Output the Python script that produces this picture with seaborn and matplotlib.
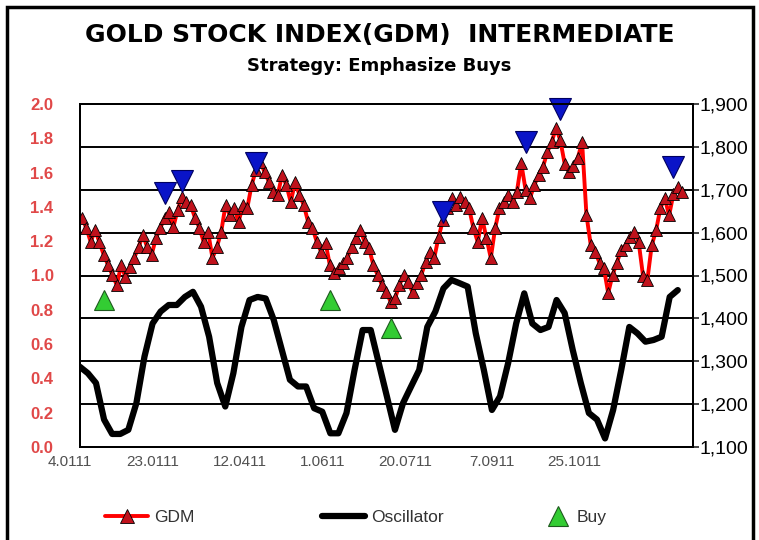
import numpy as np
import pandas as pd
import matplotlib
matplotlib.use("Agg")
import matplotlib.pyplot as plt
import seaborn as sns
from matplotlib.lines import Line2D
from matplotlib.ticker import MultipleLocator, FuncFormatter
from matplotlib.transforms import ScaledTranslation
from matplotlib.patches import Rectangle

# GDM closes (right axis), one value per trading day
gdm = [1634, 1611, 1578, 1606, 1578, 1548, 1524, 1501, 1478, 1524, 1496, 1520, 1541, 1566, 1594,
       1566, 1548, 1587, 1611, 1634, 1648, 1613, 1653, 1683, 1671, 1664, 1634, 1611, 1578, 1601,
       1541, 1566, 1601, 1664, 1641, 1657, 1625, 1664, 1657, 1711, 1746, 1765, 1741, 1718, 1695,
       1688, 1734, 1711, 1671, 1718, 1688, 1664, 1625, 1611, 1578, 1555, 1576, 1524, 1506, 1517,
       1529, 1541, 1566, 1587, 1606, 1578, 1564, 1524, 1501, 1478, 1461, 1438, 1447, 1478, 1501,
       1485, 1461, 1482, 1501, 1531, 1555, 1541, 1590, 1629, 1657, 1681, 1664, 1683, 1671, 1657,
       1611, 1578, 1634, 1587, 1541, 1610, 1657, 1671, 1688, 1671, 1695, 1762, 1700, 1680, 1711,
       1734, 1753, 1788, 1811, 1844, 1815, 1760, 1741, 1755, 1774, 1811, 1641, 1570, 1555, 1530,
       1517, 1459, 1501, 1530, 1560, 1571, 1590, 1601, 1578, 1500, 1489, 1570, 1605, 1657, 1681,
       1640, 1690, 1706, 1695]

# oscillator (left axis)
osc = [0.468, 0.43, 0.373, 0.16, 0.076, 0.076, 0.10, 0.256, 0.527, 0.72, 0.79, 0.828, 0.828,
       0.875, 0.905, 0.818, 0.643, 0.373, 0.236, 0.43, 0.70, 0.857, 0.875, 0.866, 0.741, 0.566,
       0.392, 0.353, 0.353, 0.226, 0.206, 0.08, 0.08, 0.198, 0.449, 0.682, 0.682, 0.488, 0.295,
       0.10, 0.256, 0.353, 0.449, 0.70, 0.79, 0.925, 0.974, 0.955, 0.935, 0.663, 0.449, 0.216,
       0.295, 0.488, 0.72, 0.896, 0.72, 0.682, 0.70, 0.857, 0.781, 0.566, 0.373, 0.198, 0.16,
       0.05, 0.216, 0.449, 0.70, 0.663, 0.614, 0.624, 0.643, 0.875, 0.915]

buy_day = [5, 57, 71]
buy_val = [1443, 1443, 1378]
sell_day = [19, 23, 40, 83, 102, 110, 136]
sell_val = [1692, 1720, 1762, 1648, 1811, 1888, 1753]

tick_day = [0, 19, 39, 58, 77, 97, 116]
tick_labels = ['4.0111', '23.0111', '12.0411', '1.0611', '20.0711', '7.0911', '25.1011']

df_gdm = pd.DataFrame({'day': np.arange(len(gdm)), 'GDM': gdm})
df_osc = pd.DataFrame({'day': np.linspace(-0.5, 137, len(osc)), 'Oscillator': osc})

sns.set_style("white")
plt.rcParams['font.family'] = ['Liberation Sans', 'DejaVu Sans']

fig = plt.figure(figsize=(7.59, 5.40), dpi=100)
ax = fig.add_axes([80 / 759, 1 - 447 / 540, 613 / 759, 343 / 540])
ax2 = ax.twinx()

# oscillator on the left scale
sns.lineplot(data=df_osc, x='day', y='Oscillator', ax=ax, color='black', linewidth=4.5, legend=False)
ax.set_ylim(0, 2.0)
ax.yaxis.set_major_locator(MultipleLocator(0.2))
ax.yaxis.set_minor_locator(MultipleLocator(0.25))
ax.yaxis.remove_overlapping_locs = False
ax.yaxis.set_major_formatter(FuncFormatter(lambda v, p: '%.1f' % v))
ax.grid(which='minor', axis='y', color='black', linewidth=1.4)
ax.grid(which='major', axis='both', visible=False)
ax.tick_params(axis='y', which='both', length=0, pad=19, labelsize=12, labelcolor='#E04848')
for lab in ax.get_yticklabels():
    lab.set_fontweight('bold')

# GDM on the right scale
sns.lineplot(data=df_gdm, x='day', y='GDM', ax=ax2, color='#FF0000', linewidth=2.8,
             marker='^', markersize=8.5, markerfacecolor='#C0121C', markeredgecolor='black',
             markeredgewidth=0.6, legend=False)
ax2.plot(sell_day, sell_val, linestyle='none', marker='v', markersize=16, clip_on=False,
         markerfacecolor='#0A14C8', markeredgecolor='#000060', markeredgewidth=0.8)
ax2.plot(buy_day, buy_val, linestyle='none', marker='^', markersize=15,
         markerfacecolor='#33CC33', markeredgecolor='#1E5A1E', markeredgewidth=0.8)
ax2.set_ylim(1100, 1900)
ax2.yaxis.set_major_locator(MultipleLocator(100))
ax2.yaxis.set_major_formatter(FuncFormatter(lambda v, p: '{:,.0f}'.format(v)))
ax2.tick_params(axis='y', length=4, width=1.2, pad=1, labelsize=14, labelcolor='black')
ax2.set_ylabel('')

ax.set_xlim(-0.46, 140.5)
ax.set_xticks(tick_day)
ax.set_xticklabels(tick_labels)
ax.tick_params(axis='x', length=0, pad=6, labelsize=11, labelcolor='#505050')
shift = ScaledTranslation(-0.12, 0, fig.dpi_scale_trans)
for lab in ax.get_xticklabels():
    lab.set_transform(lab.get_transform() + shift)
ax.set_xlabel('')
ax.set_ylabel('')

for a in (ax, ax2):
    for s in a.spines.values():
        s.set_color('black')
        s.set_linewidth(1.4)

fig.text(0.5, 1 - 35 / 540, 'GOLD STOCK INDEX(GDM)  INTERMEDIATE', ha='center', va='center',
         fontsize=18, fontweight='bold', family='DejaVu Sans', color='black')
fig.text(0.5, 1 - 66 / 540, 'Strategy: Emphasize Buys', ha='center', va='center',
         fontsize=13, fontweight='bold', family='DejaVu Sans', color='black')

# legend: three equal-width slots, as in the source chart
entries = [
    (Line2D([], [], color='#FF0000', linewidth=2.8, marker='^', markersize=10,
            markerfacecolor='#C0121C', markeredgecolor='black', markeredgewidth=0.6),
     'GDM', 105, 2.5),
    (Line2D([], [], color='black', linewidth=4.5), 'Oscillator', 322, 2.5),
    (Line2D([], [], linestyle='none', marker='^', markersize=14, markerfacecolor='#33CC33',
            markeredgecolor='#1E5A1E', markeredgewidth=0.8), 'Buy', 545, 1.5),
]
for h, name, xpos, hl in entries:
    fig.legend(handles=[h], labels=[name], loc='center left',
               bbox_to_anchor=(xpos / 759, 1 - 517 / 540), frameon=False, fontsize=12.5,
               handlelength=hl, handletextpad=0.35, borderpad=0, borderaxespad=0,
               labelcolor='#333333')

# outer chart frame
fig.add_artist(Rectangle((0.009, -0.05), 0.983, 1.037, transform=fig.transFigure,
                         fill=False, edgecolor='black', linewidth=2.5))

fig.savefig('out.png', dpi=100)
